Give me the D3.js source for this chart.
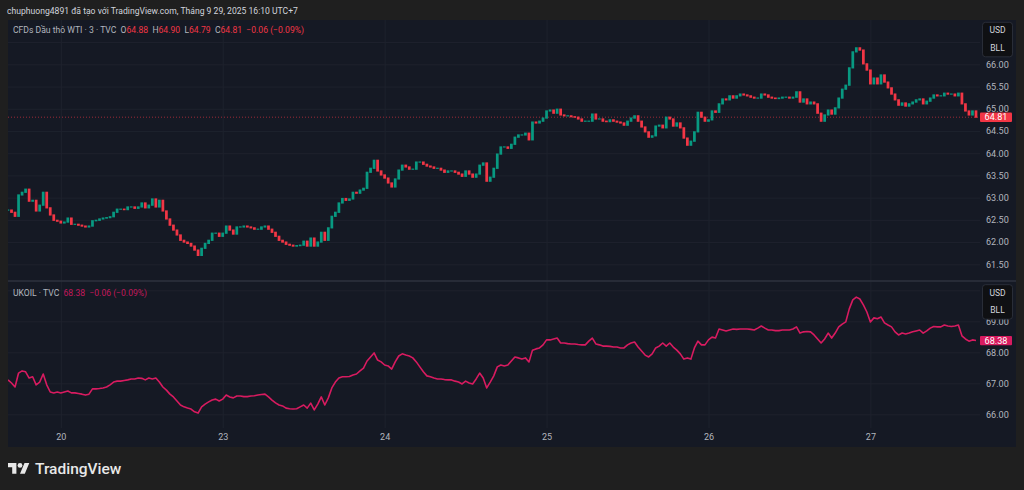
<!DOCTYPE html>
<html><head><meta charset="utf-8">
<script src="https://cdn.jsdelivr.net/npm/d3@7"></script>
<style>
html,body{margin:0;padding:0;background:#1f1f1f;overflow:hidden;}
svg{display:block;}
text{font-family:Roboto,"Noto Sans",sans-serif;}
</style></head><body>
<svg id="c" width="1024" height="490"></svg>
<script>
// ---- data ----
const headerText = "chuphuong4891 đã tạo với TradingView.com, Tháng 9 29, 2025 16:10 UTC+7";
const wtiName = "CFDs Dầu thô WTI · 3 · TVC";
const wtiOHLCLabels = ["O","H","L","C"];
const wtiOHLCValues = ["64.88","64.90","64.79","64.81"];
const wtiChange = "−0.06 (−0.09%)";
const ukName = "UKOIL · TVC";
const ukLast = "68.38";
const ukChange = "−0.06 (−0.09%)";
const unitLines = ["USD","BLL"];

// 3-min WTI closes, sampled every half trading hour
const wtiClose = [
62.72,62.67,62.58,63.06,63.12,63.19,62.92,62.94,62.70,62.83,
63.12,62.77,62.61,62.49,62.47,62.43,62.45,62.54,62.40,62.40,
62.38,62.36,62.34,62.36,62.48,62.49,62.52,62.54,62.55,62.57,
62.67,62.74,62.74,62.73,62.79,62.79,62.76,62.79,62.88,62.77,
62.83,62.97,62.79,62.94,62.70,62.52,62.38,62.27,62.16,62.04,
62.00,61.97,61.91,61.82,61.70,61.86,61.97,62.04,62.20,62.20,
62.13,62.20,62.36,62.27,62.18,62.34,62.34,62.36,62.34,62.32,
62.29,62.29,62.34,62.36,62.29,62.22,62.13,62.04,62.00,61.95,
61.93,61.91,61.92,61.93,62.02,61.91,62.09,61.91,62.00,62.22,
62.04,62.32,62.58,62.67,62.88,62.98,62.94,62.97,63.12,63.10,
63.17,63.21,63.57,63.66,63.84,63.60,63.51,63.44,63.33,63.24,
63.42,63.62,63.73,63.69,63.64,63.64,63.80,63.80,63.75,63.71,
63.69,63.66,63.66,63.62,63.57,63.60,63.60,63.57,63.53,63.48,
63.60,63.53,63.46,63.53,63.73,63.78,63.37,63.46,63.66,63.98,
64.14,64.14,64.11,64.20,64.36,64.41,64.41,64.45,64.30,64.70,
64.68,64.72,64.79,64.95,64.97,64.90,64.99,64.86,64.84,64.84,
64.82,64.81,64.77,64.72,64.72,64.72,64.88,64.77,64.77,64.72,
64.71,64.75,64.72,64.70,64.68,64.63,64.72,64.79,64.84,64.72,
64.59,64.48,64.36,64.39,64.61,64.63,64.57,64.81,64.77,64.61,
64.68,64.57,64.34,64.18,64.27,64.48,64.92,64.81,64.72,64.75,
64.95,64.92,65.11,65.22,65.20,65.29,65.24,65.29,65.33,65.31,
65.29,65.26,65.24,65.24,65.33,65.31,65.26,65.24,65.23,65.24,
65.26,65.26,65.24,65.26,65.38,65.15,65.22,65.11,65.15,65.11,
64.90,64.72,64.86,64.97,64.88,65.02,65.24,65.44,65.53,65.92,
66.28,66.37,66.32,66.01,65.87,65.56,65.69,65.56,65.76,65.60,
65.47,65.33,65.20,65.08,65.13,65.06,65.11,65.15,65.20,65.22,
65.11,65.17,65.24,65.31,65.29,65.29,65.35,65.33,65.33,65.29,
65.35,65.11,64.95,64.86,64.95,64.81
];
// UKOIL compare line, same sampling
const ukoil = [
67.11,67.01,66.88,67.33,67.40,67.37,67.17,67.21,66.95,67.04,
67.30,66.95,66.72,66.69,66.72,66.69,66.72,66.75,66.69,66.69,
66.67,66.65,66.62,66.65,66.82,66.82,66.83,66.85,66.88,66.95,
67.04,67.07,67.07,67.09,67.11,67.14,67.14,67.17,67.16,67.11,
67.17,67.14,67.17,67.04,66.88,66.78,66.65,66.56,66.43,66.30,
66.24,66.20,66.17,66.08,66.04,66.24,66.33,66.40,66.46,66.49,
66.43,66.49,66.62,66.56,66.53,66.59,66.59,66.57,66.57,66.59,
66.60,66.62,66.64,66.65,66.56,66.46,66.37,66.30,66.27,66.20,
66.18,66.17,66.18,66.24,66.30,66.20,66.36,66.14,66.33,66.56,
66.30,66.53,66.85,67.04,67.17,67.21,67.21,67.22,67.27,67.30,
67.40,67.49,67.72,67.85,67.98,67.75,67.69,67.59,67.56,67.46,
67.69,67.88,67.95,67.91,67.88,67.82,67.69,67.53,67.37,67.24,
67.21,67.17,67.14,67.14,67.12,67.11,67.11,67.07,67.04,66.98,
67.07,67.01,66.98,67.14,67.33,67.17,66.85,67.04,67.24,67.53,
67.59,67.56,67.59,67.72,67.85,67.82,67.78,67.82,67.69,68.07,
68.11,68.14,68.24,68.40,68.40,68.43,68.46,68.30,68.30,68.28,
68.27,68.27,68.25,68.24,68.24,68.36,68.46,68.27,68.24,68.20,
68.20,68.19,68.17,68.17,68.14,68.14,68.24,68.30,68.33,68.17,
68.04,67.91,67.85,67.95,68.14,68.20,68.30,68.20,68.30,68.17,
68.07,67.95,67.78,67.82,67.78,68.14,68.36,68.24,68.24,68.40,
68.49,68.46,68.75,68.72,68.69,68.72,68.75,68.74,68.75,68.75,
68.75,68.74,68.72,68.78,68.85,68.78,68.72,68.72,68.70,68.70,
68.72,68.72,68.72,68.75,68.82,68.62,68.66,68.67,68.66,68.56,
68.43,68.30,68.43,68.62,68.46,68.62,68.82,68.91,68.98,69.40,
69.69,69.78,69.72,69.53,69.30,68.98,69.11,69.08,69.14,68.95,
68.88,68.82,68.66,68.56,68.62,68.59,68.62,68.66,68.69,68.72,
68.62,68.69,68.78,68.83,68.82,68.82,68.88,68.85,68.83,68.85,
68.88,68.53,68.43,68.36,68.40,68.38
];
const totalHours = 137.5;                 // trading hours shown
const dayLabels = ["20","23","24","25","26","27"];
const dayHours  = [7.5,30.5,53.5,76.5,99.5,122.5];
const wtiGridTicks = [61.5,62,62.5,63,63.5,64,64.5,65,65.5,66,66.5];
const wtiLabelTicks = [61.5,62,62.5,63,63.5,64,64.5,65,65.5,66];
const ukGridTicks  = [66,67,68,69,70];
const ukLabelTicks = [66,67,68,69];
const wtiLast = 64.81;
const ukLastVal = 68.38;

// ---- drawing ----
const svg = d3.select("#c");
const C = {bg:"#1f1f1f", panel:"#151924", grid:"#1e222d", text:"#d1d4dc", axis:"#b2b5be",
  up:"#089981", down:"#f23645", uk:"#d81b60"};
const P = {l:8, r:1016, plotR:980, top:20, sep:281, botEnd:428, bottom:447};
const FS = "8.6px";

svg.append("rect").attr("width",1024).attr("height",490).attr("fill",C.bg);
svg.append("rect").attr("x",P.l).attr("y",P.top).attr("width",P.r-P.l).attr("height",P.bottom-P.top)
  .attr("fill",C.panel);

const x = d3.scaleLinear().domain([0,totalHours]).range([P.l, 976]);
const yTop = d3.scaleLinear().domain([61.5,66]).range([264.3,64.3]);
const yBot = d3.scaleLinear().domain([66,68]).range([414.3,352.3]);

const defs = svg.append("defs");
function clip(id,x0,y0,w,h){ defs.append("clipPath").attr("id",id).append("rect")
  .attr("x",x0).attr("y",y0).attr("width",w).attr("height",h); }
clip("cTop",P.l,P.top,P.plotR-P.l,P.sep-P.top);
clip("cBot",P.l,P.sep,P.plotR-P.l,P.botEnd-P.sep);
clip("cAxTop",P.plotR,P.top,P.r-P.plotR,P.sep-P.top);
clip("cAxBot",P.plotR,P.sep,P.r-P.plotR,P.botEnd-P.sep);
const layer = id => svg.append("g").attr("clip-path",`url(#${id})`);

// horizontal grid
function hgrid(scale, ticks, id){
  const g = layer(id).append("g").attr("transform",`translate(${P.plotR},0)`)
    .call(d3.axisLeft(scale).tickValues(ticks).tickSize(P.plotR-P.l).tickFormat(""));
  g.select(".domain").remove();
  g.selectAll("line").attr("stroke",C.grid).attr("stroke-width",1);
}
hgrid(yTop, wtiGridTicks, "cTop");
hgrid(yBot, ukGridTicks, "cBot");

// vertical grid
["cTop","cBot"].forEach(id=>{
  const g = layer(id).append("g").attr("transform",`translate(0,${P.botEnd})`)
    .call(d3.axisTop(x).tickValues(dayHours).tickSize(P.botEnd-P.top).tickFormat(""));
  g.select(".domain").remove();
  g.selectAll("line").attr("stroke",C.grid).attr("stroke-width",1);
});

// pane separator
svg.append("line").attr("x1",P.l).attr("x2",P.r).attr("y1",P.sep).attr("y2",P.sep)
  .attr("stroke","#2e323e").attr("stroke-width",1.5);

// last price dashed line (top)
svg.append("line").attr("x1",P.l).attr("x2",P.plotR)
  .attr("y1",yTop(wtiLast)).attr("y2",yTop(wtiLast))
  .attr("stroke",C.down).attr("stroke-opacity",0.6).attr("stroke-dasharray","1,2");

// candles (open = previous close)
const step = totalHours/(wtiClose.length-1);
const bars = wtiClose.map((c,i)=>({t:i*step, o: i? wtiClose[i-1] : c, c}));
const bw = Math.max(1, (x(step)-x(0))*0.78);
layer("cTop").selectAll("rect").data(bars).join("rect")
  .attr("x",d=>x(d.t)-bw/2)
  .attr("y",d=>Math.min(yTop(d.o),yTop(d.c))-0.6)
  .attr("width",bw)
  .attr("height",d=>Math.abs(yTop(d.o)-yTop(d.c))+1.2)
  .attr("fill",d=>d.c>=d.o?C.up:C.down);

// UKOIL line
const ukStep = totalHours/(ukoil.length-1);
layer("cBot").append("path").datum(ukoil)
  .attr("d",d3.line().x((d,i)=>x(i*ukStep)).y(d=>yBot(d)))
  .attr("fill","none").attr("stroke",C.uk).attr("stroke-width",1.6).attr("stroke-linejoin","round");

// price axes
function priceAxis(scale, ticks, id){
  const g = layer(id).append("g").attr("transform",`translate(${P.plotR},0)`)
    .call(d3.axisRight(scale).tickValues(ticks).tickSize(0).tickPadding(6).tickFormat(d3.format(".2f")));
  g.select(".domain").remove();
  g.selectAll("text").attr("fill",C.axis).style("font-size","9.1px").style("font-family","Roboto,sans-serif");
}
priceAxis(yTop, wtiLabelTicks, "cAxTop");
priceAxis(yBot, ukLabelTicks, "cAxBot");

// last price tags
function tag(yv, label, color){
  svg.append("rect").attr("x",P.plotR).attr("y",yv-4.6).attr("width",32).attr("height",9.4)
    .attr("rx",1).attr("fill",color);
  svg.append("text").attr("x",P.plotR+16).attr("y",yv+0.1).attr("dy","0.35em")
    .attr("text-anchor","middle").attr("fill","#ffffff").style("font-size","9.1px").text(label);
}
tag(yTop(wtiLast), d3.format(".2f")(wtiLast), C.down);
tag(yBot(ukLastVal), d3.format(".2f")(ukLastVal), C.uk);

// unit boxes
function unitBox(y0){
  svg.append("rect").attr("x",982.5).attr("y",y0).attr("width",30).attr("height",34.5)
    .attr("rx",3).attr("fill","#0f1013").attr("stroke","#30343f").attr("stroke-width",0.8);
  unitLines.forEach((u,i)=>{
    svg.append("text").attr("x",997.5).attr("y",y0+8+i*17.5).attr("dy","0.35em")
      .attr("text-anchor","middle").attr("fill",C.text).style("font-size","8.5px").text(u);
  });
}
unitBox(22.3);
unitBox(284.7);

// time axis
const ta = svg.append("g").attr("transform",`translate(0,${P.botEnd})`)
  .call(d3.axisBottom(x).tickValues(dayHours).tickSize(0).tickPadding(6)
    .tickFormat((d,i)=>dayLabels[i]));
ta.select(".domain").remove();
ta.selectAll("text").attr("fill",C.axis).style("font-size","9px").style("font-family","Roboto,sans-serif");

// header
svg.append("text").attr("x",7).attr("y",10.7).attr("dy","0.35em").attr("fill",C.text)
  .style("font-size",FS).text(headerText);

// top legend
const lg = svg.append("text").attr("x",13).attr("y",29.5).attr("dy","0.35em").style("font-size",FS)
  .attr("xml:space","preserve");
lg.append("tspan").attr("fill",C.axis).text(wtiName+"  ");
wtiOHLCLabels.forEach((l,i)=>{
  lg.append("tspan").attr("fill",C.axis).text(l);
  lg.append("tspan").attr("fill",C.down).text(wtiOHLCValues[i]+"  ");
});
lg.append("tspan").attr("fill",C.down).text(wtiChange);

// bottom legend
const lg2 = svg.append("text").attr("x",13).attr("y",293.3).attr("dy","0.35em").style("font-size",FS)
  .attr("xml:space","preserve");
lg2.append("tspan").attr("fill",C.axis).text(ukName+"  ");
lg2.append("tspan").attr("fill","#c2185b").text(ukLast+"  "+ukChange);

// TradingView logo
const logo = svg.append("g").attr("transform","translate(8,460.6) scale(0.6)").attr("fill","#e8e8e8");
logo.append("path").attr("d","M14 22H7V11H0V4h14v18zM28 22h-8l7.5-18h8L28 22z");
logo.append("circle").attr("cx",20).attr("cy",8).attr("r",4);
svg.append("text").attr("x",35).attr("y",468.5).attr("dy","0.35em").attr("fill","#e8e8e8")
  .style("font-size","15.5px").style("font-weight","500").text("TradingView");
</script>
</body></html>
